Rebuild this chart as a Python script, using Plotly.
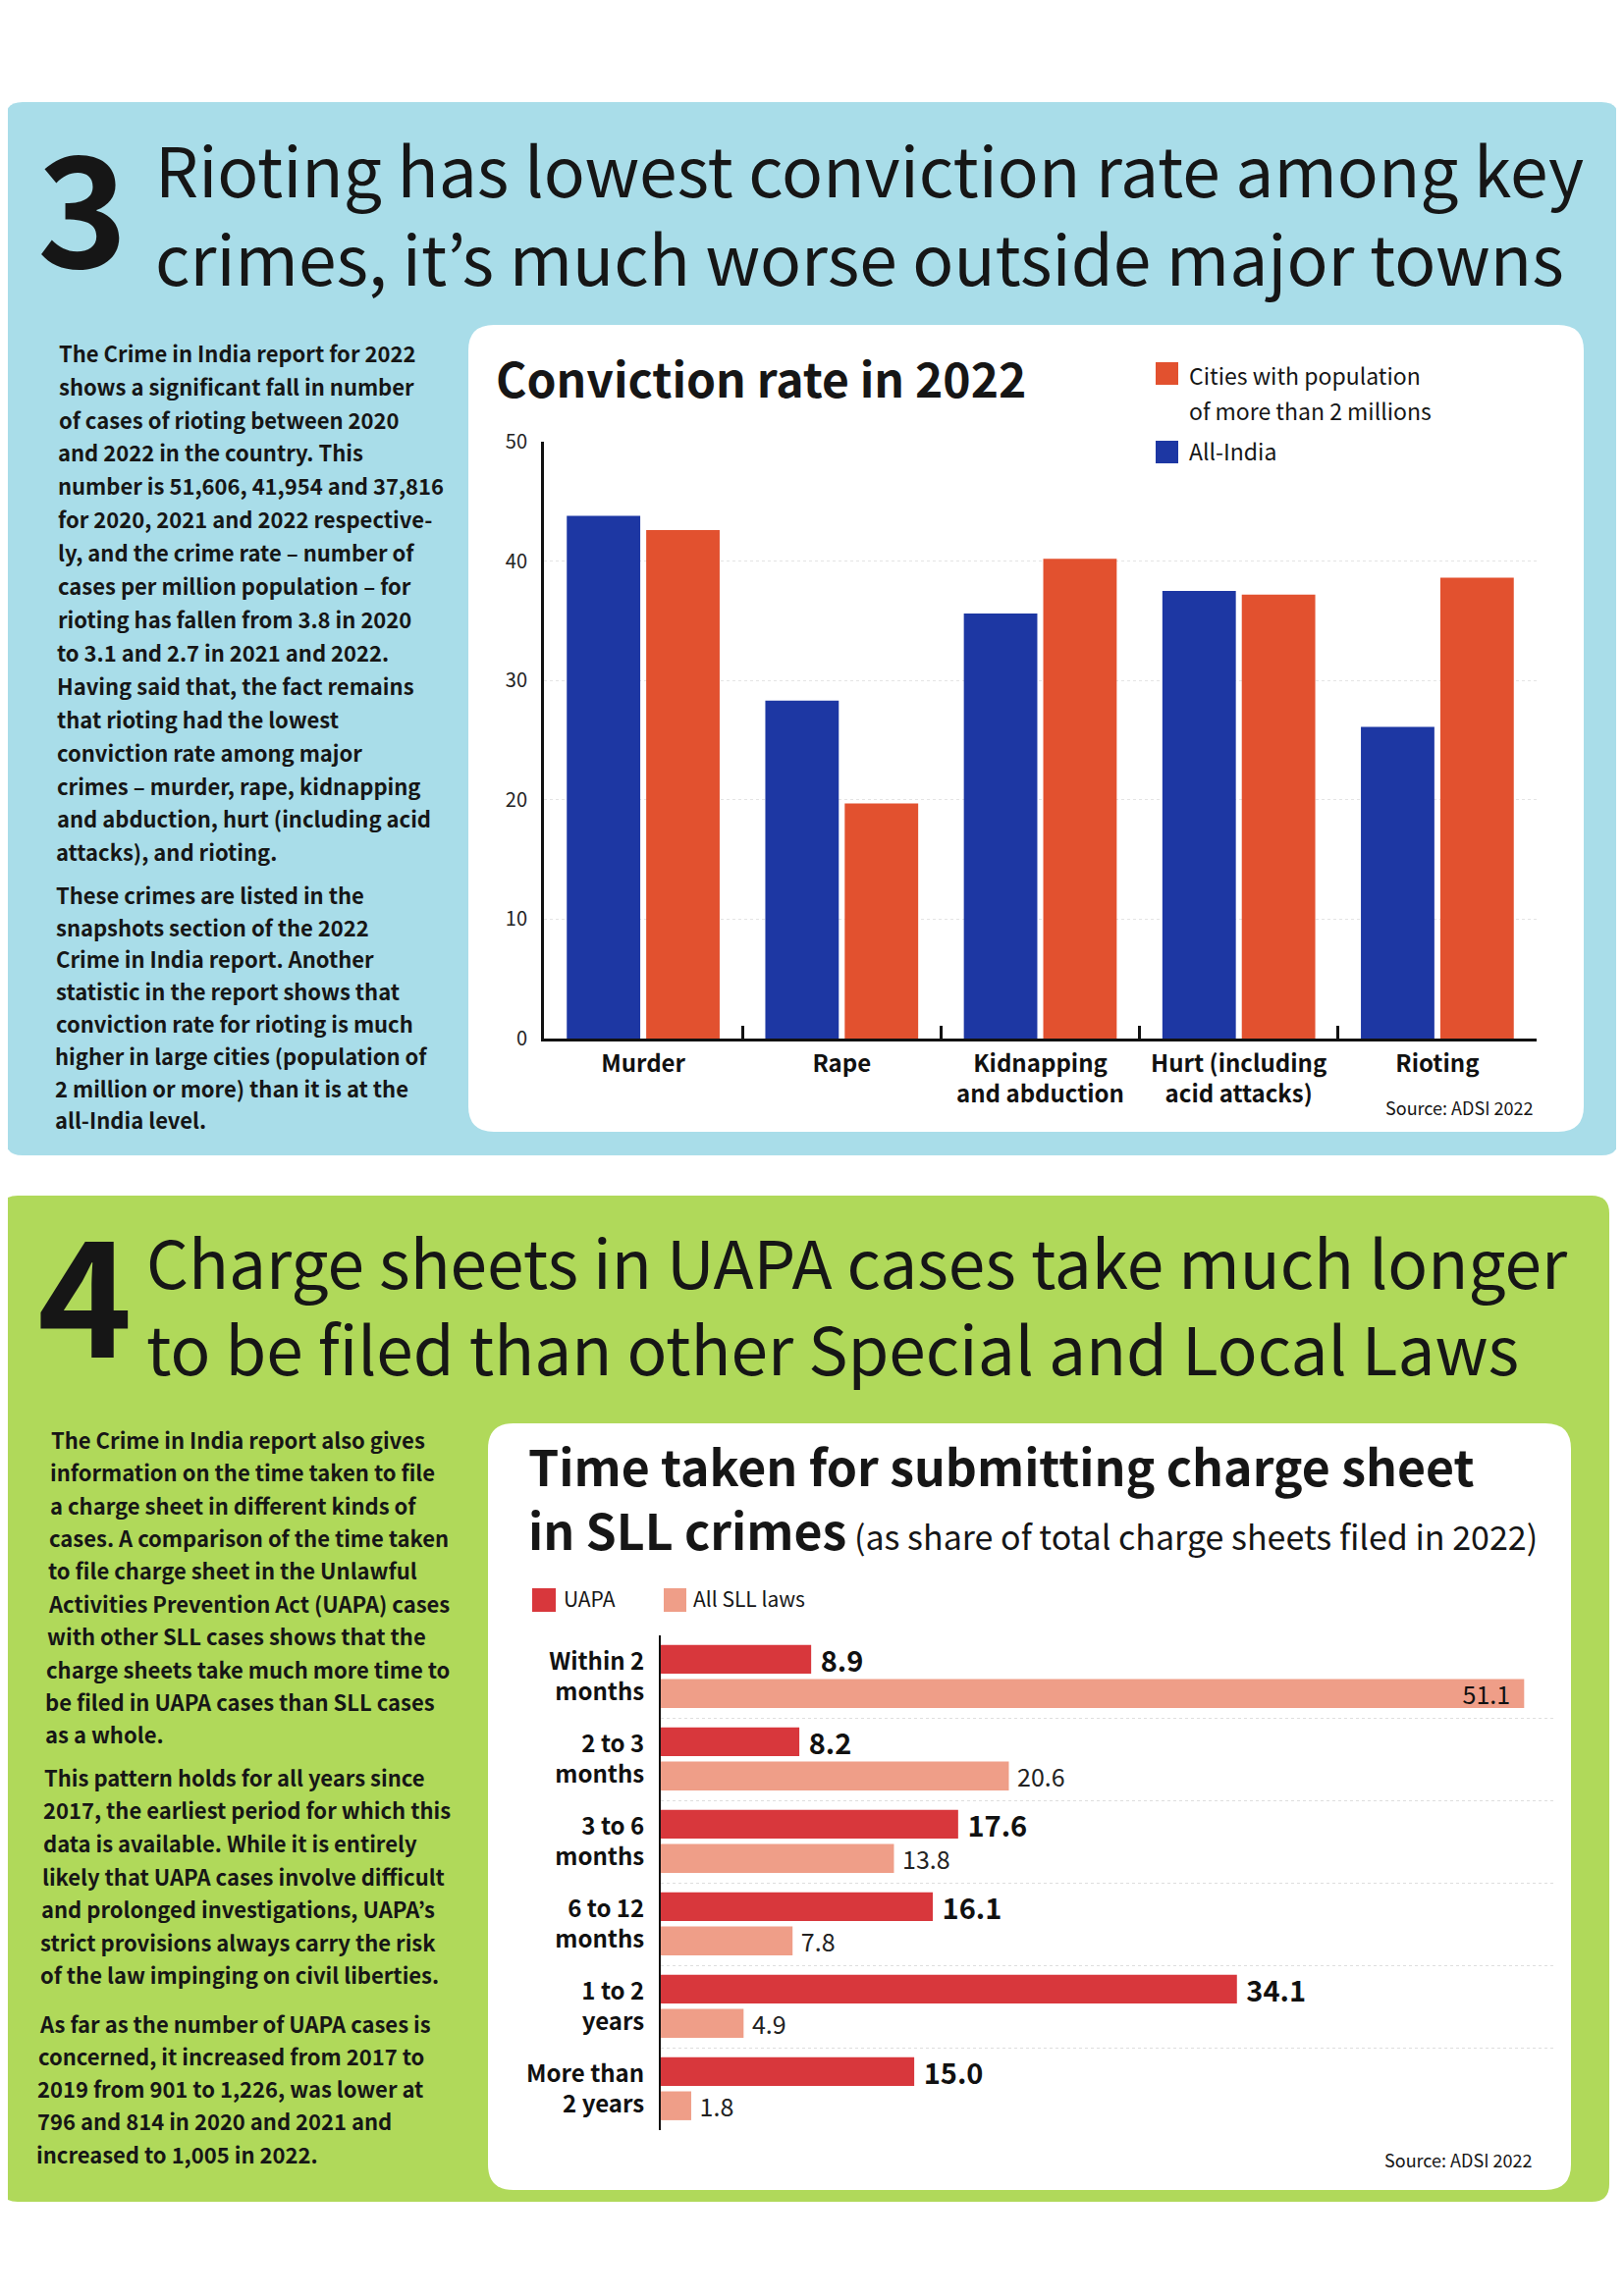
import plotly.graph_objects as go

W, H = 1654, 2339
LEFT, TOP = 8, 8             # default page margin of the html body
FW, FH = W - 16, H - 16

# ---------------- data ----------------
crimes = ["Murder", "Rape", "Kidnapping<br>and abduction", "Hurt (including<br>acid attacks)", "Rioting"]
all_india = [43.8, 28.3, 35.6, 37.5, 26.1]
cities = [42.6, 19.7, 40.2, 37.2, 38.6]
conv_ticks = [0, 10, 20, 30, 40, 50]

durations = ["Within 2<br>months", "2 to 3<br>months", "3 to 6<br>months",
             "6 to 12<br>months", "1 to 2<br>years", "More than<br>2 years"]
uapa = [8.9, 8.2, 17.6, 16.1, 34.1, 15.0]
all_sll = [51.1, 20.6, 13.8, 7.8, 4.9, 1.8]
sll_inside = [True, False, False, False, False, False]

head1 = ["Rioting has lowest conviction rate among key",
         "crimes, it’s much worse outside major towns"]
head2 = ["Charge sheets in UAPA cases take much longer",
         "to be filed than other Special and Local Laws"]

body1_p1 = ["The Crime in India report for 2022",
            "shows a significant fall in number",
            "of cases of rioting between 2020",
            "and 2022 in the country. This",
            "number is 51,606, 41,954 and 37,816",
            "for 2020, 2021 and 2022 respective-",
            "ly, and the crime rate – number of",
            "cases per million population – for",
            "rioting has fallen from 3.8 in 2020",
            "to 3.1 and 2.7 in 2021 and 2022.",
            "Having said that, the fact remains",
            "that rioting had the lowest",
            "conviction rate among major",
            "crimes – murder, rape, kidnapping",
            "and abduction, hurt (including acid",
            "attacks), and rioting."]
body1_p2 = ["These crimes are listed in the",
            "snapshots section of the 2022",
            "Crime in India report. Another",
            "statistic in the report shows that",
            "conviction rate for rioting is much",
            "higher in large cities (population of",
            "2 million or more) than it is at the",
            "all-India level."]

body2_p1 = ["The Crime in India report also gives",
            "information on the time taken to file",
            "a charge sheet in different kinds of",
            "cases. A comparison of the time taken",
            "to file charge sheet in the Unlawful",
            "Activities Prevention Act (UAPA) cases",
            "with other SLL cases shows that the",
            "charge sheets take much more time to",
            "be filed in UAPA cases than SLL cases",
            "as a whole."]
body2_p2 = ["This pattern holds for all years since",
            "2017, the earliest period for which this",
            "data is available. While it is entirely",
            "likely that UAPA cases involve difficult",
            "and prolonged investigations, UAPA’s",
            "strict provisions always carry the risk",
            "of the law impinging on civil liberties."]
body2_p3 = ["As far as the number of UAPA cases is",
            "concerned, it increased from 2017 to",
            "2019 from 901 to 1,226, was lower at",
            "796 and 814 in 2020 and 2021 and",
            "increased to 1,005 in 2022."]

# ---------------- style ----------------
FONT = "Noto Sans CJK JP, Noto Sans CJK SC, Liberation Sans, sans-serif"
DARK = "#161616"
BLUE = "#1d37a3"
ORANGE = "#e2512f"
UAPA_RED = "#d8373c"
SLL_PINK = "#ef9e88"
PANEL_BLUE = "#a9dde9"
PANEL_GREEN = "#b0d95a"


def px(x, y):
    return (x - LEFT) / FW, 1 - (y - TOP) / FH


annotations = []


def txt(s, x, y, size, weight="normal", xanchor="left", color=DARK):
    # y is the visual centre of the capitals; shift for the font's box
    ax, ay = px(x, y - 0.1 * size)
    annotations.append(dict(text=s, x=ax, y=ay, xref="paper", yref="paper",
                            xanchor=xanchor, yanchor="middle", align="left", showarrow=False,
                            font=dict(family=FONT, size=size, color=color, weight=weight)))


def rrect(x0, y0, x1, y1, r, fill):
    def p(x, y):
        a, b = px(x, y)
        return f"{a:.6f},{b:.6f}"
    path = (f"M {p(x0 + r, y0)} L {p(x1 - r, y0)} Q {p(x1, y0)} {p(x1, y0 + r)} "
            f"L {p(x1, y1 - r)} Q {p(x1, y1)} {p(x1 - r, y1)} "
            f"L {p(x0 + r, y1)} Q {p(x0, y1)} {p(x0, y1 - r)} "
            f"L {p(x0, y0 + r)} Q {p(x0, y0)} {p(x0 + r, y0)} Z")
    return dict(type="path", path=path, xref="paper", yref="paper",
                fillcolor=fill, line=dict(width=0), layer="below")


def square(x0, y0, x1, y1, fill):
    a0, b0 = px(x0, y0)
    a1, b1 = px(x1, y1)
    return dict(type="rect", x0=a0, y0=b1, x1=a1, y1=b0, xref="paper", yref="paper",
                fillcolor=fill, line=dict(width=0), layer="above")


shapes = [
    rrect(5, 104, 1649, 1177, 18, PANEL_BLUE),
    rrect(0, 1218, 1639, 2243, 18, PANEL_GREEN),
    rrect(477, 331, 1613, 1153, 26, "white"),
    rrect(497, 1450, 1600, 2231, 26, "white"),
    square(1177, 369, 1200, 392, ORANGE),
    square(1177, 449, 1200, 472, BLUE),
    square(542, 1618, 566, 1642, UAPA_RED),
    square(676, 1618, 699, 1642, SLL_PINK),
]

# ---------------- headlines ----------------
txt("3", 84, 221, 156, weight="bold", xanchor="center")
txt("<br>".join(head1), 156, 222, 69.5)
txt("4", 86, 1328, 164, weight="bold", xanchor="center")
txt("<br>".join(head2), 147, 1334, 67.5)

# ---------------- body text ----------------
for i, line in enumerate(body1_p1):
    y = 361 + i * 33.9
    txt(line, 58 - (y - 361) / 782 * 4, y, 22, weight="bold")
for i, line in enumerate(body1_p2):
    y = 913 + i * 32.8
    txt(line, 58 - (y - 361) / 782 * 4, y, 22, weight="bold")

for i, line in enumerate(body2_p1):
    y = 1468 + i * 33.4
    txt(line, 50 - (y - 1468) / 728 * 15, y, 22, weight="bold")
for i, line in enumerate(body2_p2):
    y = 1812 + i * 33.6
    txt(line, 50 - (y - 1468) / 728 * 15, y, 22, weight="bold")
for i, line in enumerate(body2_p3):
    y = 2063 + i * 33.2
    txt(line, 50 - (y - 1468) / 728 * 15, y, 22, weight="bold")

# ---------------- chart 1 texts ----------------
txt("Conviction rate in 2022", 503, 389, 48, weight="bold")
txt("Cities with population", 1209, 384, 23)
txt("of more than 2 millions", 1209, 420, 23)
txt("All-India", 1209, 461, 23)
txt("Source: ADSI 2022", 1563, 1130, 18, xanchor="right")

# ---------------- chart 2 texts ----------------
title2 = ("<b>Time taken for submitting charge sheet</b><br>"
          "<b>in SLL crimes</b><span style=\"font-size:34px\"> (as share of total charge sheets filed in 2022)</span>")
txt(title2, 536, 1529, 50)
txt("UAPA", 572, 1630, 21)
txt("All SLL laws", 704, 1630, 21)
txt("Source: ADSI 2022", 1562, 2202, 18, xanchor="right")

# ---------------- traces ----------------
fig = go.Figure()

fig.add_trace(go.Bar(x=crimes, y=all_india, name="All-India", marker=dict(color=BLUE, line=dict(width=0)),
                     width=0.37, offset=-0.385, xaxis="x", yaxis="y", hoverinfo="skip"))
fig.add_trace(go.Bar(x=crimes, y=cities, name="Cities with population of more than 2 millions",
                     marker=dict(color=ORANGE, line=dict(width=0)),
                     width=0.37, offset=0.015, xaxis="x", yaxis="y", hoverinfo="skip"))

NB = "\u00a0"
uapa_text = [NB + f"{v:.1f}" for v in uapa]
sll_text = [(f"{v:.1f}" + NB + NB) if ins else (NB + f"{v:.1f}") for v, ins in zip(all_sll, sll_inside)]
sll_pos = ["inside" if ins else "outside" for ins in sll_inside]

fig.add_trace(go.Bar(y=durations, x=uapa, orientation="h", name="UAPA",
                     marker=dict(color=UAPA_RED, line=dict(width=0)),
                     width=0.35, offset=-0.385, xaxis="x2", yaxis="y2",
                     text=uapa_text, textposition="outside", constraintext="none", cliponaxis=False,
                     outsidetextfont=dict(family=FONT, size=29, color="#111", weight="bold"),
                     hoverinfo="skip"))
fig.add_trace(go.Bar(y=durations, x=all_sll, orientation="h", name="All SLL laws",
                     marker=dict(color=SLL_PINK, line=dict(width=0)),
                     width=0.35, offset=0.03, xaxis="x2", yaxis="y2",
                     text=sll_text, textposition=sll_pos, insidetextanchor="end",
                     constraintext="none", cliponaxis=False,
                     insidetextfont=dict(family=FONT, size=25, color="#111"),
                     outsidetextfont=dict(family=FONT, size=25, color="#222"),
                     hoverinfo="skip"))

x1d = px(554, 0)[0], px(1565, 0)[0]
y1d = px(0, 1058)[1], px(0, 450)[1]
x2d = px(673, 0)[0], px(1585, 0)[0]
y2d = px(0, 2170)[1], px(0, 1666)[1]

fig.update_layout(
    width=FW, height=FH, autosize=False,
    margin=dict(l=0, r=0, t=0, b=0, autoexpand=False),
    paper_bgcolor="white", plot_bgcolor="rgba(0,0,0,0)",
    showlegend=False, barmode="overlay", hovermode=False,
    font=dict(family=FONT, color=DARK),
    shapes=shapes, annotations=annotations,
    xaxis=dict(domain=list(x1d), anchor="y", type="category", range=[-0.5, 4.5], automargin=False,
               showline=True, linecolor="#111", linewidth=3, tickangle=0,
               ticks="inside", tickson="boundaries", ticklen=13, tickwidth=3, tickcolor="#111",
               showgrid=False, zeroline=False, ticklabelstandoff=2,
               tickfont=dict(family=FONT, size=24, color="#111", weight="bold")),
    yaxis=dict(domain=list(y1d), anchor="x", range=[0, 50], tickvals=conv_ticks, automargin=False,
               showline=True, linecolor="#111", linewidth=3, ticks="",
               showgrid=True, gridcolor="#e4e4e4", griddash="dot", gridwidth=1,
               zeroline=False, ticklabelstandoff=10,
               tickfont=dict(family=FONT, size=20, color="#222")),
    xaxis2=dict(domain=list(x2d), anchor="y2", range=[0, 53], visible=False, automargin=False),
    yaxis2=dict(domain=list(y2d), anchor="x2", type="category", range=[5.5, -0.5], automargin=False,
                showline=True, linecolor="#111", linewidth=2, ticks="",
                tickson="boundaries", showgrid=True, gridcolor="#dedede", griddash="dot", gridwidth=1,
                zeroline=False, ticklabelstandoff=10,
                tickfont=dict(family=FONT, size=24, color="#111", weight="bold")),
)

fig.write_html("out.html")
